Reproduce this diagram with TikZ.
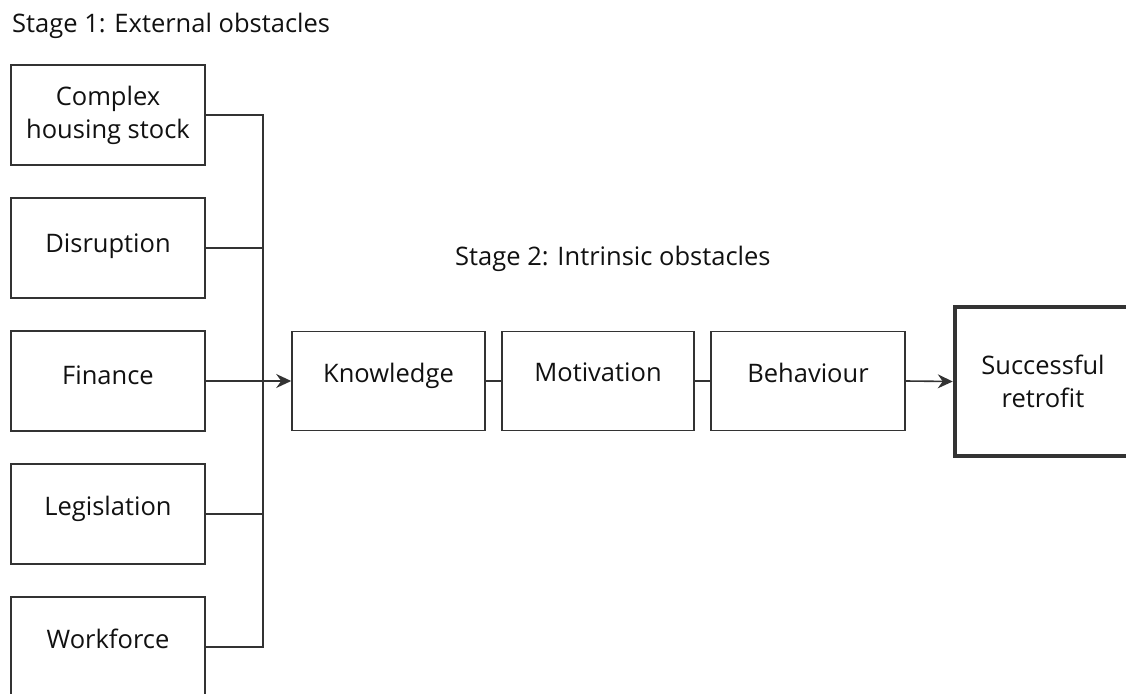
\documentclass[tikz,border=0pt]{standalone}
\usepackage{fontspec}
\setmainfont{Open Sans}
\usetikzlibrary{arrows.meta}
\definecolor{ln}{HTML}{333333}
\definecolor{tx}{HTML}{111111}
\tikzset{
  box/.style={draw=ln, line width=1.6pt, minimum width=194pt, minimum height=100pt, align=center, inner sep=0pt, text=tx, font=\fontsize{25.5}{33}\selectfont, text depth=17pt},
  conn/.style={draw=ln, line width=1.6pt},
  arr/.style={conn, -{Stealth[length=15pt,width=14pt,inset=5pt]}},
  title/.style={anchor=base west, inner sep=0pt, text=tx, font=\fontsize{25.5}{30}\selectfont}
}
\begin{document}
\begin{tikzpicture}[x=1pt,y=-1pt]
\useasboundingbox (0,0) rectangle (1126,693);
\node[title] (t1) at (12,33) {Stage 1: External obstacles};
\node[title] (t2) at (455,265) {Stage 2: Intrinsic obstacles};
\node[box, text depth=6pt] (c1) at (108,115) {Complex\\housing stock};
\node[box, text depth=9pt] (c2) at (108,248) {Disruption};
\node[box, text depth=11pt] (c3) at (108,381) {Finance};
\node[box] (c4) at (108,514) {Legislation};
\node[box] (c5) at (108,647) {Workforce};
\node[box, minimum width=193pt, minimum height=99pt] (k) at (388.5,381) {Knowledge};
\node[box, minimum width=192pt, minimum height=99pt] (m) at (598,381) {Motivation};
\node[box, minimum height=99pt] (b) at (808,381) {Behaviour};
\node[box, line width=4.5pt, minimum width=176pt, minimum height=149pt, text depth=0pt] (s) at (1043,381.5) {Successful\\retrofit};
\coordinate (j) at (263,381);
\draw[conn] (c1.east) -| (j);
\draw[conn] (c5.east) -| (j);
\draw[conn] (c2.east) -- (c2.east -| j);
\draw[conn] (c4.east) -- (c4.east -| j);
\draw[arr] (c3.east) -- (k.west);
\draw[conn] (k.east) -- (m.west);
\draw[conn] (m.east) -- (b.west);
\draw[arr] (b.east) -- (s.west);
\end{tikzpicture}
\end{document}
